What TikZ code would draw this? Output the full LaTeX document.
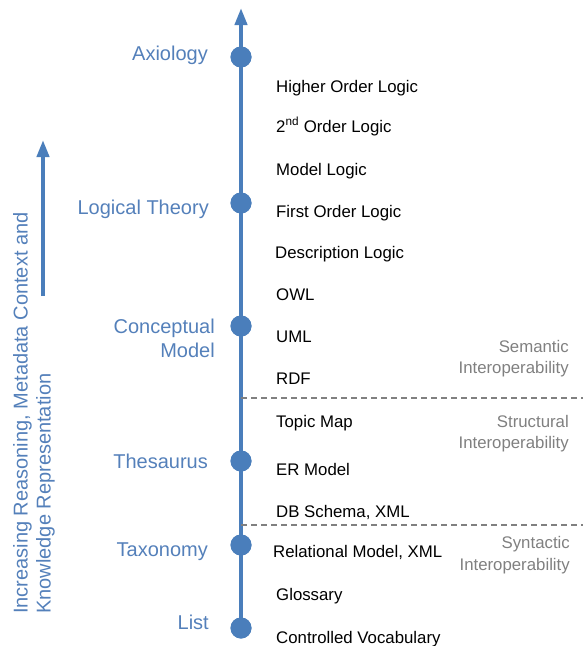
\documentclass[tikz,border=0pt]{standalone}
\usepackage{fontspec}
\setmainfont{Liberation Sans}
\usetikzlibrary{arrows.meta}
\definecolor{axisblue}{RGB}{74,126,187}
\definecolor{labelblue}{RGB}{84,128,186}
\definecolor{bandgray}{RGB}{128,128,128}
\tikzset{
  levelstyle/.style={inner sep=0pt, text=labelblue, font=\fontsize{20}{23}\selectfont},
  itemstyle/.style={inner sep=0pt, anchor=base west, text=black, font=\fontsize{16.8}{20}\selectfont},
  bandstyle/.style={inner sep=0pt, anchor=base east, text=bandgray, font=\fontsize{16.8}{20}\selectfont},
  dotstyle/.style={circle, fill=axisblue, inner sep=0pt, minimum size=21pt},
  axisline/.style={draw=axisblue, line width=4pt, -{Triangle[width=12pt,length=17pt]}},
  separator/.style={draw=bandgray, line width=1.3pt, dash pattern=on 6pt off 4pt}
}
\begin{document}
\begin{tikzpicture}[x=1pt,y=-1pt]
\useasboundingbox (0,0) rectangle (585,646);

% main axis with level dots
\coordinate (axistop) at (241,8);
\node[dotstyle] (dlist) at (241,628) {};
\node[dotstyle] (dtax) at (241,545) {};
\node[dotstyle] (dthes) at (241,461) {};
\node[dotstyle] (dconc) at (241,326) {};
\node[dotstyle] (dlog) at (241,203) {};
\node[dotstyle] (daxi) at (241,57) {};
\draw[axisline] (dlist.center) -- (axistop);
\foreach \d in {dlist,dtax,dthes,dconc,dlog,daxi}
  \node[dotstyle] at (\d) {};

% band separators
\coordinate (sepAend) at (583,398);
\coordinate (sepBend) at (583,525);
\draw[separator] (241,398) -- (sepAend);
\draw[separator] (241,525) -- (sepBend);

% level names
\node[levelstyle, anchor=base east] (laxi) at (208,60) {Axiology};
\node[levelstyle, anchor=base east] (llog) at (209,214) {Logical Theory};
\node[levelstyle, anchor=base east] (lconc1) at (215,333) {Conceptual};
\node[levelstyle, anchor=base east] (lconc2) at (215,357) {Model};
\node[levelstyle, anchor=base east] (lthes) at (208,468) {Thesaurus};
\node[levelstyle, anchor=base east] (ltax) at (208,556) {Taxonomy};
\node[levelstyle, anchor=base east] (llist) at (209,629) {List};

% representations
\node[itemstyle] (i1) at (276,92) {Higher Order Logic};
\node[itemstyle] (i2) at (276,132) {2\textsuperscript{nd} Order Logic};
\node[itemstyle] (i3) at (276,175) {Model Logic};
\node[itemstyle] (i4) at (276,217) {First Order Logic};
\node[itemstyle] (i5) at (275,258) {Description Logic};
\node[itemstyle] (i6) at (276,300) {OWL};
\node[itemstyle] (i7) at (276,342) {UML};
\node[itemstyle] (i8) at (276,384) {RDF};
\node[itemstyle] (i9) at (276,427) {Topic Map};
\node[itemstyle] (i10) at (276,475) {ER Model};
\node[itemstyle] (i11) at (276,517) {DB Schema, XML};
\node[itemstyle] (i12) at (273,557) {Relational Model, XML};
\node[itemstyle] (i13) at (276,600) {Glossary};
\node[itemstyle] (i14) at (276,643) {Controlled Vocabulary};

% interoperability bands
\node[bandstyle] (b1) at (569,352) {Semantic};
\node[bandstyle] (b2) at (569,373) {Interoperability};
\node[bandstyle] (b3) at (569,427) {Structural};
\node[bandstyle] (b4) at (569,448) {Interoperability};
\node[bandstyle] (b5) at (570,548) {Syntactic};
\node[bandstyle] (b6) at (570,570) {Interoperability};

% side caption and its arrow
\node[rotate=90, anchor=north west, align=left, inner sep=0pt, text=labelblue,
      font=\fontsize{20}{23}\selectfont] (caption) at (13,614)
  {Increasing Reasoning, Metadata Context and\\Knowledge Representation};
\coordinate (sidebase) at (43,296);
\coordinate (sidetip) at (43,140);
\draw[axisline] (sidebase) -- (sidetip);
\end{tikzpicture}
\end{document}
